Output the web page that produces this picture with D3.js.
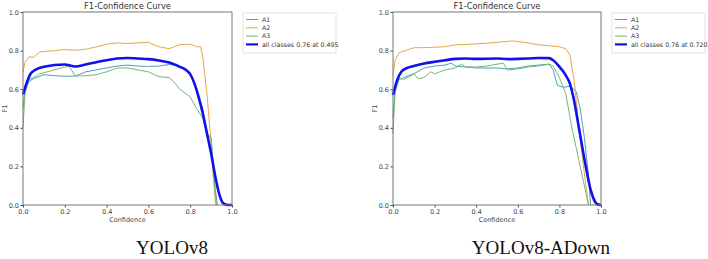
<!DOCTYPE html>
<html>
<head>
<meta charset="utf-8">
<script src="https://cdn.jsdelivr.net/npm/d3@7"></script>
<style>
  body { margin: 0; background: #fff; }
  svg text { font-family: "DejaVu Sans", sans-serif; }
</style>
</head>
<body>
<svg id="chart" width="708" height="259"></svg>
<script>
// 数据 (读自图片)
var classNames = ["A1", "A2", "A3"];
var ticks = [0, 0.2, 0.4, 0.6, 0.8, 1.0];

// YOLOv8
var v8_conf_all = [0, 0.02, 0.04, 0.1, 0.2, 0.25, 0.3, 0.35, 0.4, 0.45, 0.5, 0.55, 0.6, 0.65, 0.7, 0.75, 0.78, 0.8, 0.82, 0.84, 0.86, 0.88, 0.9, 0.92, 0.94, 0.96, 0.98, 1.0];
var v8_all = [0.573, 0.64, 0.685, 0.716, 0.728, 0.718, 0.728, 0.74, 0.75, 0.759, 0.762, 0.759, 0.756, 0.749, 0.738, 0.716, 0.70, 0.678, 0.63, 0.56, 0.475, 0.372, 0.268, 0.148, 0.053, 0.007, 0, 0];
var v8_conf_a1 = [0, 0.01, 0.03, 0.05, 0.1, 0.15, 0.2, 0.25, 0.3, 0.35, 0.4, 0.45, 0.5, 0.55, 0.6, 0.65, 0.7, 0.75, 0.8, 0.83, 0.86, 0.88, 0.9, 0.91, 0.92, 0.93];
var v8_a1 = [0.5, 0.6, 0.64, 0.655, 0.675, 0.67, 0.667, 0.668, 0.69, 0.70, 0.71, 0.72, 0.725, 0.72, 0.718, 0.72, 0.728, 0.72, 0.68, 0.6, 0.5, 0.37, 0.35, 0.2, 0.08, 0];
var v8_conf_a2 = [0, 0.01, 0.03, 0.05, 0.08, 0.15, 0.2, 0.25, 0.3, 0.35, 0.4, 0.45, 0.5, 0.55, 0.6, 0.65, 0.7, 0.75, 0.8, 0.83, 0.85, 0.86, 0.88, 0.9, 0.91, 0.92, 0.925];
var v8_a2 = [0.69, 0.74, 0.768, 0.764, 0.793, 0.80, 0.805, 0.802, 0.807, 0.819, 0.833, 0.84, 0.837, 0.84, 0.843, 0.82, 0.81, 0.831, 0.833, 0.82, 0.82, 0.768, 0.578, 0.32, 0.148, 0.028, 0];
var v8_conf_a3 = [0, 0.01, 0.03, 0.05, 0.08, 0.1, 0.15, 0.2, 0.22, 0.25, 0.3, 0.35, 0.4, 0.45, 0.5, 0.55, 0.6, 0.65, 0.7, 0.72, 0.75, 0.8, 0.83, 0.86, 0.88, 0.9, 0.91, 0.92, 0.925];
var v8_a3 = [0.4, 0.58, 0.65, 0.66, 0.68, 0.685, 0.70, 0.715, 0.72, 0.668, 0.67, 0.675, 0.69, 0.71, 0.71, 0.70, 0.69, 0.665, 0.66, 0.64, 0.60, 0.56, 0.50, 0.45, 0.36, 0.35, 0.2, 0.05, 0];

// YOLOv8-ADown
var ad_conf_all = [0, 0.02, 0.04, 0.07, 0.1, 0.15, 0.2, 0.25, 0.3, 0.35, 0.4, 0.5, 0.55, 0.6, 0.65, 0.7, 0.75, 0.77, 0.8, 0.83, 0.85, 0.87, 0.89, 0.91, 0.93, 0.95, 0.97, 0.98, 1.0];
var ad_all = [0.57, 0.647, 0.69, 0.711, 0.72, 0.733, 0.742, 0.75, 0.757, 0.759, 0.757, 0.759, 0.756, 0.757, 0.759, 0.762, 0.761, 0.75, 0.716, 0.673, 0.63, 0.544, 0.423, 0.30, 0.182, 0.08, 0.02, 0.005, 0];
var ad_conf_a1 = [0, 0.01, 0.03, 0.05, 0.1, 0.15, 0.2, 0.25, 0.28, 0.3, 0.35, 0.4, 0.45, 0.5, 0.55, 0.6, 0.65, 0.7, 0.75, 0.77, 0.79, 0.82, 0.85, 0.88, 0.9, 0.92, 0.94, 0.95];
var ad_a1 = [0.45, 0.6, 0.65, 0.66, 0.68, 0.71, 0.72, 0.725, 0.735, 0.72, 0.715, 0.71, 0.71, 0.71, 0.705, 0.71, 0.72, 0.725, 0.73, 0.70, 0.62, 0.61, 0.615, 0.59, 0.5, 0.35, 0.15, 0];
var ad_conf_a2 = [0, 0.01, 0.03, 0.06, 0.1, 0.15, 0.2, 0.25, 0.3, 0.35, 0.4, 0.45, 0.5, 0.55, 0.58, 0.6, 0.65, 0.7, 0.75, 0.8, 0.83, 0.85, 0.87, 0.89, 0.91, 0.93, 0.94];
var ad_a2 = [0.67, 0.75, 0.79, 0.80, 0.815, 0.815, 0.818, 0.82, 0.83, 0.832, 0.835, 0.838, 0.843, 0.848, 0.85, 0.847, 0.84, 0.83, 0.825, 0.82, 0.81, 0.78, 0.65, 0.45, 0.25, 0.08, 0];
var ad_conf_a3 = [0, 0.01, 0.03, 0.05, 0.08, 0.1, 0.12, 0.15, 0.18, 0.2, 0.25, 0.3, 0.33, 0.35, 0.4, 0.45, 0.53, 0.55, 0.6, 0.65, 0.7, 0.75, 0.77, 0.8, 0.83, 0.86, 0.88, 0.9, 0.92, 0.94];
var ad_a3 = [0.37, 0.58, 0.66, 0.65, 0.665, 0.68, 0.655, 0.66, 0.69, 0.68, 0.70, 0.71, 0.73, 0.715, 0.715, 0.72, 0.735, 0.70, 0.705, 0.715, 0.72, 0.73, 0.72, 0.66, 0.58, 0.40, 0.30, 0.20, 0.10, 0];

var panels = [
  { caption: "YOLOv8", legendAll: "all classes 0.76 at 0.495",
    x0: 23, x1: 232, legX: 243, capX: 172,
    classes: [[v8_conf_a1, v8_a1], [v8_conf_a2, v8_a2], [v8_conf_a3, v8_a3]],
    all: [v8_conf_all, v8_all] },
  { caption: "YOLOv8-ADown", legendAll: "all classes 0.76 at 0.720",
    x0: 393, x1: 601, legX: 612, capX: 541,
    classes: [[ad_conf_a1, ad_a1], [ad_conf_a2, ad_a2], [ad_conf_a3, ad_a3]],
    all: [ad_conf_all, ad_all] }
];

var colors = ["#4f9dbb", "#eaa54c", "#72bb72"];
var svg = d3.select("#chart");
var plotTop = 12, plotBottom = 205;

panels.forEach(function(p) {
  var x = d3.scaleLinear().domain([0, 1]).range([p.x0, p.x1]);
  var y = d3.scaleLinear().domain([0, 1]).range([plotBottom, plotTop]);
  var g = svg.append("g");

  // 曲线
  var line = d3.line().x(d => x(d[0])).y(d => y(d[1]));
  p.classes.forEach(function(c, i) {
    var pts = c[0].map((v, j) => [v, c[1][j]]);
    g.append("path").datum(pts).attr("d", line)
      .attr("fill", "none").attr("stroke", colors[i]).attr("stroke-width", 1);
  });
  var allPts = p.all[0].map((v, j) => [v, p.all[1][j]]);
  var smooth = d3.line().x(d => x(d[0])).y(d => y(d[1])).curve(d3.curveMonotoneX);
  g.append("path").datum(allPts).attr("d", smooth)
    .attr("fill", "none").attr("stroke", "#1010f0").attr("stroke-width", 2.6);

  // 坐标轴
  var xAxis = d3.axisBottom(x).tickValues(ticks).tickFormat(d3.format(".1f")).tickSize(2.5).tickPadding(1.5);
  var yAxis = d3.axisLeft(y).tickValues(ticks).tickFormat(d3.format(".1f")).tickSize(2.5).tickPadding(1.5);
  g.append("g").attr("transform", `translate(0,${plotBottom})`).call(xAxis);
  g.append("g").attr("transform", `translate(${p.x0},0)`).call(yAxis);
  g.selectAll(".domain").remove();
  g.selectAll(".tick line").attr("stroke", "#444");
  g.selectAll(".tick text").attr("fill", "#444").style("font-size", "6.5px");

  g.append("rect").attr("x", p.x0).attr("y", plotTop)
    .attr("width", p.x1 - p.x0).attr("height", plotBottom - plotTop)
    .attr("fill", "none").attr("stroke", "#777").attr("stroke-width", 1);

  g.append("text").attr("x", (p.x0 + p.x1) / 2).attr("y", 9)
    .attr("text-anchor", "middle").style("font-size", "8.3px").attr("fill", "#333")
    .text("F1-Confidence Curve");
  g.append("text").attr("x", (p.x0 + p.x1) / 2).attr("y", 222)
    .attr("text-anchor", "middle").style("font-size", "6.5px").attr("fill", "#444")
    .text("Confidence");
  g.append("text").attr("transform", `translate(${p.x0 - 16},${(plotTop + plotBottom) / 2}) rotate(-90)`)
    .attr("text-anchor", "middle").style("font-size", "6.5px").attr("fill", "#444")
    .text("F1");

  // 图例
  var lg = g.append("g");
  lg.append("rect").attr("x", p.legX).attr("y", 13).attr("width", 93).attr("height", 40)
    .attr("fill", "#fff").attr("stroke", "#ddd").attr("stroke-width", 0.8);
  var labels = classNames.concat([p.legendAll]);
  labels.forEach(function(t, i) {
    var yy = 19.5 + i * 8.3;
    lg.append("line").attr("x1", p.legX + 3).attr("x2", p.legX + 15)
      .attr("y1", yy).attr("y2", yy)
      .attr("stroke", i < 3 ? colors[i] : "#1010f0").attr("stroke-width", i < 3 ? 1 : 2.2);
    lg.append("text").attr("x", p.legX + 19).attr("y", yy).attr("dy", "0.35em")
      .style("font-size", "6.3px").attr("fill", "#333").text(t);
  });

  svg.append("text").attr("x", p.capX).attr("y", 254)
    .attr("text-anchor", "middle").style("font-family", "'Liberation Serif', serif")
    .style("font-size", "19px").attr("fill", "#111").text(p.caption);
});
</script>
</body>
</html>
